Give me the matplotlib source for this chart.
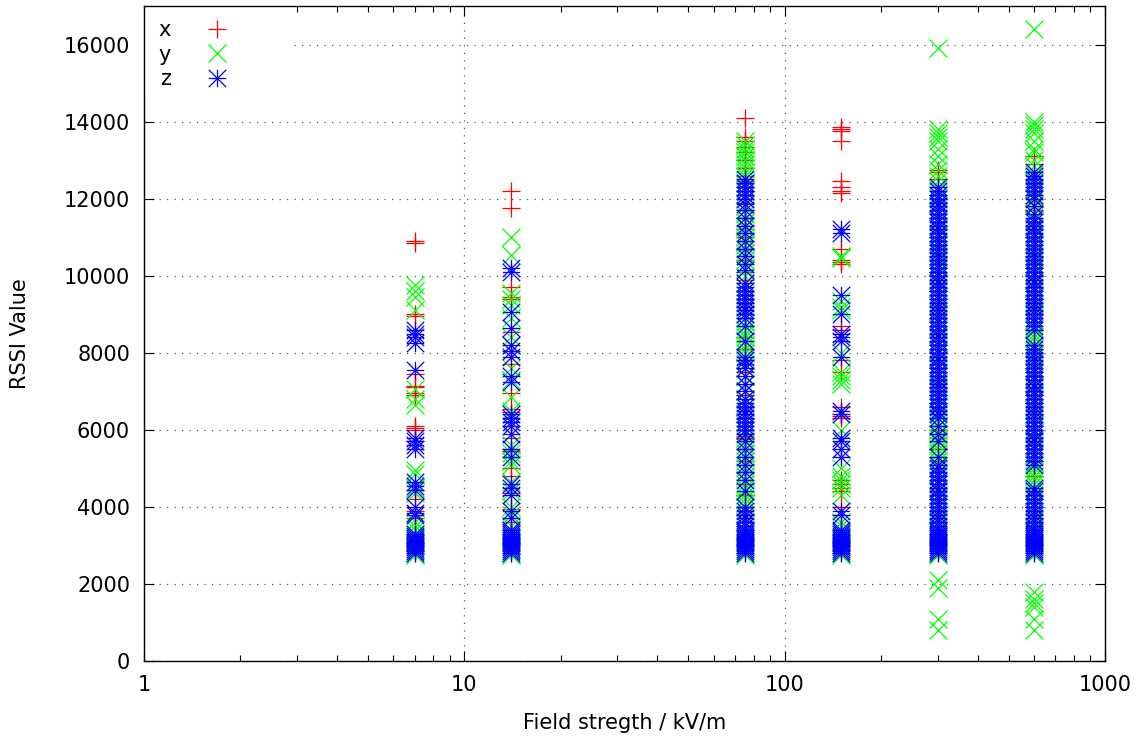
import matplotlib
matplotlib.use("Agg")
import matplotlib.pyplot as plt
from matplotlib.path import Path
from matplotlib.patches import Rectangle
from matplotlib.ticker import LogLocator, FixedLocator, NullFormatter, FuncFormatter

# ---------------- data ----------------
fields = [7, 14, 75, 150, 300, 600]   # field strength, kV/m

x_at_7 = [10850, 10900, 9000, 8950, 7450, 7150, 7100, 6950, 6900, 6100, 6050, 6000, 5700,
          4450, 4200, 3900, 3700, 3300, 3200, 3100, 3000, 2950, 2900, 2850, 2800]
x_at_14 = [12200, 11750, 9700, 9450, 9400, 8550, 8050, 7700, 6950, 6550, 6450, 5800, 5450,
           5000, 4800, 4350, 3950, 3600, 3400, 3300, 3200, 3100, 3000, 2900, 2800]
x_at_75 = [14100, 13600, 13500, 13350, 13200, 13000, 12800, 12600, 12450, 12300, 12100, 11900,
           11700, 11500, 11200, 11000, 10700, 10400, 10100, 9900, 9600, 9300, 9000, 8700, 8400,
           8100, 7800, 7500, 7200, 6900, 6600, 6300, 6000, 5850, 5800, 5750, 5500, 5200, 4900,
           4600, 4300, 4000, 3800, 3600, 3400, 3200, 3000, 2900, 2800]
x_at_150 = [13850, 13800, 13750, 13500, 12450, 12300, 12200, 12150, 10700, 10400, 10350, 10300,
            8700, 8600, 7800, 7500, 6600, 6400, 6350, 6300, 5300, 4700, 4600, 4500, 4400, 4000,
            3800, 3400, 3200, 3100, 3000, 2900, 2800]
x_at_300 = [12750, 12700, 12500, 12300, 11900, 11500, 11000, 10800, 10500, 10000, 9600, 9200,
            8900, 8500, 8000, 7600, 7200, 7100, 6900, 6500, 6000, 5800, 5500, 5200, 4800, 4500,
            4200, 3900, 3600, 3300, 3100, 2900, 2800]
x_at_600 = [13100, 12900, 11900, 11800, 11700, 11000, 10500, 10000, 9700, 9400, 9000, 8600,
            8200, 7900, 7400, 7000, 6700, 6400, 6000, 5600, 5200, 4800, 4400, 4000, 3700, 3400,
            3200, 3000, 2900, 2800]

y_at_7 = [9750, 9600, 9450, 9100, 7050, 6800, 6650, 4950, 4850, 4500, 4350, 3600, 3500, 3400,
          3300, 3200, 3100, 3000, 2900, 2800, 2750]
y_at_14 = [11000, 10550, 9550, 9400, 9250, 8900, 8400, 8200, 7600, 7300, 6850, 6500, 5600, 5400,
           5200, 5100, 4650, 4400, 4000, 3800, 3500, 3400, 3300, 3200, 3100, 3000, 2900, 2800, 2750]
y_at_75 = [13500, 13400, 13300, 13200, 13100, 13000, 12900, 12800, 12700, 12600, 12400, 12200,
           12000, 11800, 11600, 11400, 11300, 11200, 11000, 10900, 10800, 10600, 10400, 10200,
           10000, 9800, 9600, 9400, 9200, 9000, 8800, 8600, 8500, 8400, 8300, 8200, 8100, 8000,
           7800, 7600, 7400, 7200, 7000, 6800, 6600, 6400, 6200, 6000, 5800, 5600, 5400, 5200,
           5000, 4800, 4600, 4500, 4400, 4300, 4200, 4100, 4000, 3800, 3600, 3400, 3200, 3000,
           2900, 2800, 2750]
y_at_150 = [10500, 10450, 9350, 9200, 9100, 8000, 7500, 7400, 7300, 7200, 6000, 5000, 4800, 4700,
            4600, 4500, 4300, 3600, 3500, 3300, 3200, 3100, 3000, 2900, 2800, 2750]
y_at_300 = [15900, 13800, 13700, 13600, 13500, 13300, 13100, 12900, 12750, 12600, 12450, 12250,
            12050, 11850, 11650, 11450, 11250, 11050, 10850, 10650, 10450, 10250, 10050, 9850,
            9650, 9450, 9250, 9050, 8850, 8650, 8450, 8250, 8050, 7850, 7650, 7450, 7250, 7050,
            6850, 6650, 6450, 6300, 6200, 6100, 6000, 5900, 5800, 5700, 5600, 5500, 5400, 5300,
            5200, 5050, 4850, 4650, 4450, 4250, 4050, 3850, 3650, 3450, 3250, 3050, 2900, 2800,
            2750, 2100, 1900, 1100, 800]
y_at_600 = [16400, 14000, 13900, 13800, 13700, 13500, 13300, 13200, 13000, 12850, 12650, 12450,
            12250, 12050, 11850, 11650, 11450, 11250, 11050, 10850, 10650, 10450, 10250, 10050,
            9850, 9650, 9450, 9250, 9050, 8850, 8650, 8500, 8400, 8300, 8150, 7950, 7750, 7550,
            7350, 7150, 6950, 6750, 6550, 6350, 6150, 5950, 5750, 5550, 5350, 5150, 5000, 4900,
            4800, 4700, 4600, 4450, 4250, 4050, 3850, 3650, 3450, 3250, 3050, 2900, 2800, 2750,
            1800, 1600, 1500, 1400, 1100, 800]

z_at_7 = [8600, 8500, 8400, 8250, 7550, 5800, 5700, 5600, 5500, 4650, 4550, 4450, 4000, 3850,
          3800, 3300, 3250, 3200, 3150, 3100, 3050, 3000, 2950, 2900, 2850, 2800]
z_at_14 = [10200, 10100, 9050, 8650, 8200, 8050, 7900, 7400, 7250, 6400, 6300, 6200, 6100, 5900,
           5500, 5300, 4600, 4500, 4300, 3900, 3700, 3400, 3350, 3300, 3250, 3200, 3150, 3100,
           3050, 3000, 2950, 2900, 2850, 2800]
z_at_75 = [12500, 12400, 12300, 12200, 12100, 12000, 11850, 11700, 11500, 11300, 11100, 10900,
           10700, 10500, 10300, 10150, 9800, 9700, 9600, 9500, 9400, 9300, 9200, 9100, 9000,
           8900, 8700, 8300, 7900, 7800, 7700, 7600, 7400, 7200, 7000, 6800, 6700, 6600, 6500,
           6400, 6300, 6200, 6100, 6000, 5900, 5700, 5500, 5300, 5100, 4900, 4700, 4400, 4000,
           3900, 3800, 3700, 3600, 3500, 3400, 3350, 3300, 3250, 3200, 3150, 3100, 3050, 3000,
           2950, 2900, 2850, 2800]
z_at_150 = [11200, 11100, 9500, 9000, 8500, 8400, 8300, 7900, 6500, 6400, 5800, 5700, 5500, 5300,
            3900, 3800, 3400, 3350, 3300, 3250, 3200, 3150, 3100, 3050, 3000, 2950, 2900, 2850,
            2800]
z_at_300 = [12300, 12200, 12100, 12000, 11900, 11800, 11700, 11600, 11500, 11400, 11300, 11200,
            11100, 11000, 10900, 10800, 10700, 10600, 10500, 10400, 10300, 10200, 10100, 10000,
            9900, 9800, 9700, 9600, 9500, 9400, 9300, 9200, 9100, 9000, 8900, 8800, 8700, 8600,
            8500, 8400, 8300, 8200, 8100, 8000, 7900, 7800, 7700, 7600, 7500, 7400, 7300, 7200,
            7100, 7000, 6900, 6800, 6700, 6600, 6500, 6400, 6300, 6100, 5900, 5700, 5300, 5100,
            5000, 4900, 4800, 4700, 4600, 4500, 4400, 4300, 4200, 4100, 4000, 3900, 3800, 3700,
            3600, 3500, 3400, 3350, 3300, 3250, 3200, 3150, 3100, 3050, 3000, 2950, 2900, 2850,
            2800]
z_at_600 = [12700, 12600, 12500, 12400, 12300, 12200, 12100, 12000, 11800, 11600, 11500, 11400,
            11300, 11200, 11100, 11000, 10900, 10800, 10700, 10600, 10500, 10400, 10300, 10200,
            10100, 10000, 9900, 9800, 9700, 9600, 9500, 9400, 9300, 9200, 9100, 9000, 8900, 8800,
            8700, 8600, 8200, 8100, 8000, 7900, 7800, 7700, 7600, 7500, 7400, 7300, 7200, 7100,
            7000, 6900, 6800, 6700, 6600, 6500, 6400, 6300, 6200, 6100, 6000, 5900, 5800, 5700,
            5600, 5500, 5400, 5300, 5200, 5100, 4500, 4400, 4300, 4200, 4100, 4000, 3900, 3800,
            3700, 3600, 3500, 3400, 3350, 3300, 3250, 3200, 3150, 3100, 3050, 3000, 2950, 2900,
            2850, 2800]

series_labels = ["x", "y", "z"]
series_colors = ["#ff0000", "#00ff00", "#0000ff"]
series_data = [
    [x_at_7, x_at_14, x_at_75, x_at_150, x_at_300, x_at_600],
    [y_at_7, y_at_14, y_at_75, y_at_150, y_at_300, y_at_600],
    [z_at_7, z_at_14, z_at_75, z_at_150, z_at_300, z_at_600],
]
y_ticks = [0, 2000, 4000, 6000, 8000, 10000, 12000, 14000, 16000]
x_ticks = [1, 10, 100, 1000]

# ---------------- styling ----------------
plt.rcParams["font.family"] = ["DejaVu Sans"]
FS = 15

# gnuplot-like asterisk: '+' combined with 'x'
asterisk = Path(
    [(-1, 0), (1, 0), (0, -1), (0, 1), (-1, -1), (1, 1), (-1, 1), (1, -1)],
    [Path.MOVETO, Path.LINETO] * 4,
)
markers = ["+", "x", asterisk]

fig = plt.figure(figsize=(11.46, 7.38), dpi=100)
ax = fig.add_axes([144 / 1146, 77 / 738, 961 / 1146, 655 / 738])

for label, color, marker, cols in zip(series_labels, series_colors, markers, series_data):
    xs, ys = [], []
    for f, vals in zip(fields, cols):
        xs.extend([f] * len(vals))
        ys.extend(vals)
    ax.plot(xs, ys, linestyle="none", marker=marker, markersize=12.5,
            markeredgewidth=0.9, color=color, label=label, zorder=3)

ax.set_xscale("log")
ax.set_xlim(1, 1000)
ax.set_ylim(0, 17000)
ax.xaxis.set_major_locator(FixedLocator(x_ticks))
ax.xaxis.set_major_formatter(FuncFormatter(lambda v, p: f"{v:g}"))
ax.xaxis.set_minor_locator(LogLocator(base=10, subs=range(2, 10)))
ax.xaxis.set_minor_formatter(NullFormatter())
ax.yaxis.set_major_locator(FixedLocator(y_ticks))

ax.tick_params(which="both", direction="in", top=True, right=True, colors="black",
               labelsize=FS)
ax.tick_params(which="major", length=7, width=0.8)
ax.tick_params(which="minor", length=4, width=0.8)
ax.tick_params(axis="x", which="major", pad=10)
ax.tick_params(axis="y", which="major", pad=10)
for s in ax.spines.values():
    s.set_linewidth(1.0)
    s.set_color("black")

ax.set_axisbelow(True)
ax.grid(True, which="major", linestyle=(0, (1, 5)), linewidth=0.9, color="#555555")

# blank area behind the key (gnuplot key hides grid)
ax.add_patch(Rectangle((0, 0.868), 0.152, 0.132, transform=ax.transAxes,
                       facecolor="white", edgecolor="none", zorder=1))

ax.set_xlabel("Field stregth / kV/m", fontsize=FS, labelpad=13)
ax.set_ylabel("RSSI Value", fontsize=FS, labelpad=24)

leg = ax.legend(loc="upper left", markerfirst=False, frameon=False, fontsize=FS,
                handlelength=2.2, handletextpad=1.1, labelspacing=0.2,
                borderaxespad=0.2, bbox_to_anchor=(0.002, 0.997))

fig.savefig("out.png", dpi=100)
